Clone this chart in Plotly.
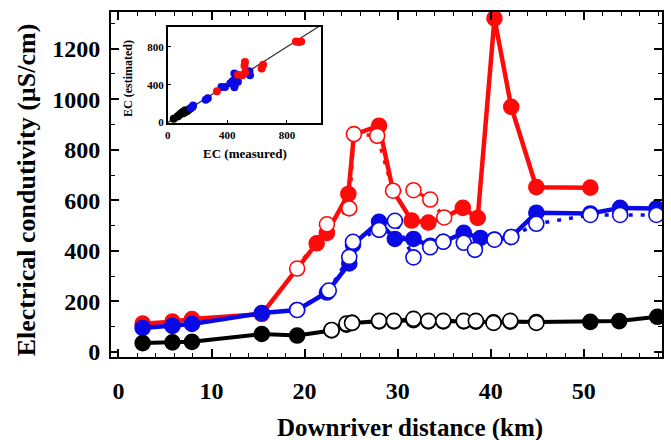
import plotly.graph_objects as go

# ---------------- main panel data (distance km, EC uS/cm) ----------------
red_meas_x = [2.6, 5.8, 7.9, 15.4, 19.2, 21.3, 22.4, 24.7, 25.3, 28.0, 29.5, 31.5, 33.3, 35.0, 37.0, 38.6, 40.4, 42.2, 44.9, 50.7]
red_meas_y = [112, 120, 130, 150, 330, 430, 471, 625, 860, 895, 638, 520, 512, 532, 570, 530, 1320, 970, 652, 650]
red_filled = [1, 1, 1, 1, 0, 1, 1, 1, 0, 1, 0, 1, 1, 0, 1, 1, 1, 1, 1, 1]
red_est_x = [19.2, 22.4, 24.8, 25.3, 27.8, 29.5, 31.7, 33.5, 35.0]
red_est_y = [330, 505, 568, 862, 855, 638, 640, 603, 532]

blue_meas_x = [2.6, 5.8, 7.9, 15.4, 19.2, 22.4, 24.8, 25.2, 28.0, 29.7, 31.7, 33.5, 34.9, 37.1, 38.9, 40.4, 42.2, 44.9, 50.7, 53.9, 57.8]
blue_meas_y = [95, 103, 111, 154, 166, 235, 350, 425, 515, 447, 447, 420, 436, 471, 451, 445, 455, 551, 548, 570, 568]
blue_est_x = [19.2, 22.6, 24.8, 25.2, 28.0, 29.7, 31.7, 33.5, 34.9, 37.1, 38.3, 40.4, 42.2, 44.9, 50.7, 53.9, 57.8]
blue_est_y = [166, 243, 376, 436, 483, 519, 374, 414, 436, 432, 404, 444, 455, 507, 542, 542, 542]

black_meas_x = [2.6, 5.8, 7.9, 15.4, 19.2, 22.9, 24.5, 25.1, 28.0, 29.6, 31.7, 33.3, 34.9, 37.1, 38.4, 40.3, 42.1, 44.9, 50.7, 53.8, 57.9]
black_meas_y = [35, 38, 40, 71, 65, 85, 108, 115, 121, 121, 126, 121, 121, 121, 120, 117, 120, 118, 119, 122, 139]
black_est_x = [22.9, 24.5, 25.1, 28.0, 29.6, 31.7, 33.3, 34.9, 37.1, 38.4, 40.3, 42.1, 44.9]
black_est_y = [87, 112, 115, 123, 123, 131, 123, 123, 123, 123, 115, 123, 115]

# ---------------- inset data (measured vs estimated EC) ----------------
inset_red_meas = [330, 471, 500, 518, 515, 630, 640, 860, 880, 895, 520]
inset_red_est = [330, 505, 500, 640, 600, 570, 610, 855, 850, 855, 530]
inset_blue_meas = [154, 166, 255, 360, 384, 436, 447, 447, 420, 436, 471, 451, 445, 455, 552, 548, 170, 269]
inset_blue_est = [154, 166, 240, 376, 376, 436, 519, 374, 414, 436, 432, 404, 444, 455, 500, 542, 181, 256]
inset_black_meas = [40, 65, 71, 82, 100, 110, 115, 118, 120, 118, 115, 125, 135, 150, 90, 105]
inset_black_est = [40, 65, 71, 87, 112, 115, 123, 131, 123, 115, 123, 118, 128, 145, 95, 100]
one_to_one = [0, 1030]

RED = "#ff0a0a"
BLUE = "#0a0ae6"
BLACK = "#000000"
FONT = "Liberation Serif"

fig = go.Figure()


def add_meas(x, y, color, width, filled=None):
    if filled is None:
        filled = [1] * len(x)
    fig.add_trace(go.Scatter(
        x=x, y=y, mode="lines+markers",
        line=dict(color=color, width=width),
        marker=dict(size=[15 if f else 1 for f in filled], color=color, opacity=1,
                    line=dict(color=color, width=1.6)),
        showlegend=False, hoverinfo="x+y"))


def add_est(x, y, color):
    fig.add_trace(go.Scatter(
        x=x, y=y, mode="lines+markers",
        line=dict(color=color, width=3.5, dash="4px,8px"),
        marker=dict(size=15, color="white", opacity=1, line=dict(color=color, width=1.6)),
        showlegend=False, hoverinfo="x+y"))


add_meas(red_meas_x, red_meas_y, RED, 4.5, red_filled)
add_est(red_est_x, red_est_y, RED)
add_meas(blue_meas_x, blue_meas_y, BLUE, 4.5)
add_est(blue_est_x, blue_est_y, BLUE)
add_meas(black_meas_x, black_meas_y, BLACK, 4)
add_est(black_est_x, black_est_y, BLACK)

# inset
fig.add_trace(go.Scatter(x=one_to_one, y=one_to_one, mode="lines",
                         line=dict(color="#333333", width=1.2),
                         xaxis="x2", yaxis="y2", showlegend=False))
for xs, ys, c in [(inset_black_meas, inset_black_est, BLACK),
                  (inset_blue_meas, inset_blue_est, BLUE),
                  (inset_red_meas, inset_red_est, RED)]:
    fig.add_trace(go.Scatter(x=xs, y=ys, mode="markers",
                             marker=dict(size=8, color=c, opacity=1),
                             xaxis="x2", yaxis="y2", showlegend=False))

X_RANGE = [-0.8, 58.4]
Y_RANGE = [-20, 1345]

axis_common = dict(showgrid=False, zeroline=False, showline=True,
                   linecolor="black", linewidth=2, mirror="allticks",
                   ticks="inside", ticklen=8, tickwidth=1.5, tickcolor="black")
tickfont = dict(family=FONT, size=24, color="black", weight="bold")

fig.update_layout(
    width=671, height=440,
    margin=dict(l=111, r=7, t=12, b=83),
    paper_bgcolor="white", plot_bgcolor="white",
    xaxis=dict(range=X_RANGE, tick0=0, dtick=10,
               minor=dict(dtick=2, ticks="inside", ticklen=4, tickcolor="black", tickwidth=1.2),
               tickfont=tickfont, ticklabelstandoff=11, **axis_common),
    yaxis=dict(range=Y_RANGE, tick0=0, dtick=200,
               minor=dict(dtick=100, ticks="inside", ticklen=4, tickcolor="black", tickwidth=1.2),
               tickfont=tickfont, ticklabelstandoff=4, **axis_common),
    # mirrored minor ticks on top and right
    xaxis3=dict(overlaying="x", side="top", anchor="y", range=X_RANGE, tick0=0, dtick=2,
                ticks="inside", ticklen=4, tickwidth=1.2, tickcolor="black",
                showticklabels=False, showgrid=False, zeroline=False, showline=False),
    yaxis3=dict(overlaying="y", side="right", anchor="x", range=Y_RANGE, tick0=0, dtick=100,
                ticks="inside", ticklen=4, tickwidth=1.2, tickcolor="black",
                showticklabels=False, showgrid=False, zeroline=False, showline=False),
    xaxis2=dict(domain=[0.103, 0.3816], anchor="y2", range=[0, 1030],
                tickvals=[0, 400, 800], showgrid=False, zeroline=False,
                showline=True, linecolor="black", linewidth=1.8, mirror=True,
                ticks="inside", ticklen=3, tickcolor="black",
                tickfont=dict(family=FONT, size=11, color="black", weight="bold"),
                ticklabelstandoff=1),
    yaxis2=dict(domain=[0.678, 0.957], anchor="x2", range=[-5, 1010],
                tickvals=[0, 400, 800], showgrid=False, zeroline=False,
                showline=True, linecolor="black", linewidth=1.8, mirror=True,
                ticks="inside", ticklen=3, tickcolor="black",
                tickfont=dict(family=FONT, size=11, color="black", weight="bold"),
                ticklabelstandoff=0),
    annotations=[
        dict(text="Downriver distance (km)", xref="paper", yref="paper",
             x=(411 - 111) / 553, y=(357 - 428) / 345, showarrow=False,
             xanchor="center", yanchor="middle",
             font=dict(family=FONT, size=25, color="black", weight="bold")),
        dict(text="Electrical condutivity (µS/cm)", xref="paper", yref="paper",
             x=(26 - 111) / 553, y=(357 - 190) / 345, showarrow=False, textangle=-90,
             xanchor="center", yanchor="middle",
             font=dict(family=FONT, size=26, color="black", weight="bold")),
        dict(text="EC (measured)", xref="paper", yref="paper",
             x=(245 - 111) / 553, y=(357 - 153) / 345, showarrow=False,
             xanchor="center", yanchor="middle",
             font=dict(family=FONT, size=13, color="black", weight="bold")),
        dict(text="EC (estimated)", xref="paper", yref="paper",
             x=(128 - 111) / 553, y=(357 - 78) / 345, showarrow=False, textangle=-90,
             xanchor="center", yanchor="middle",
             font=dict(family=FONT, size=12, color="black", weight="bold")),
    ],
)

fig.write_html("out.html")
